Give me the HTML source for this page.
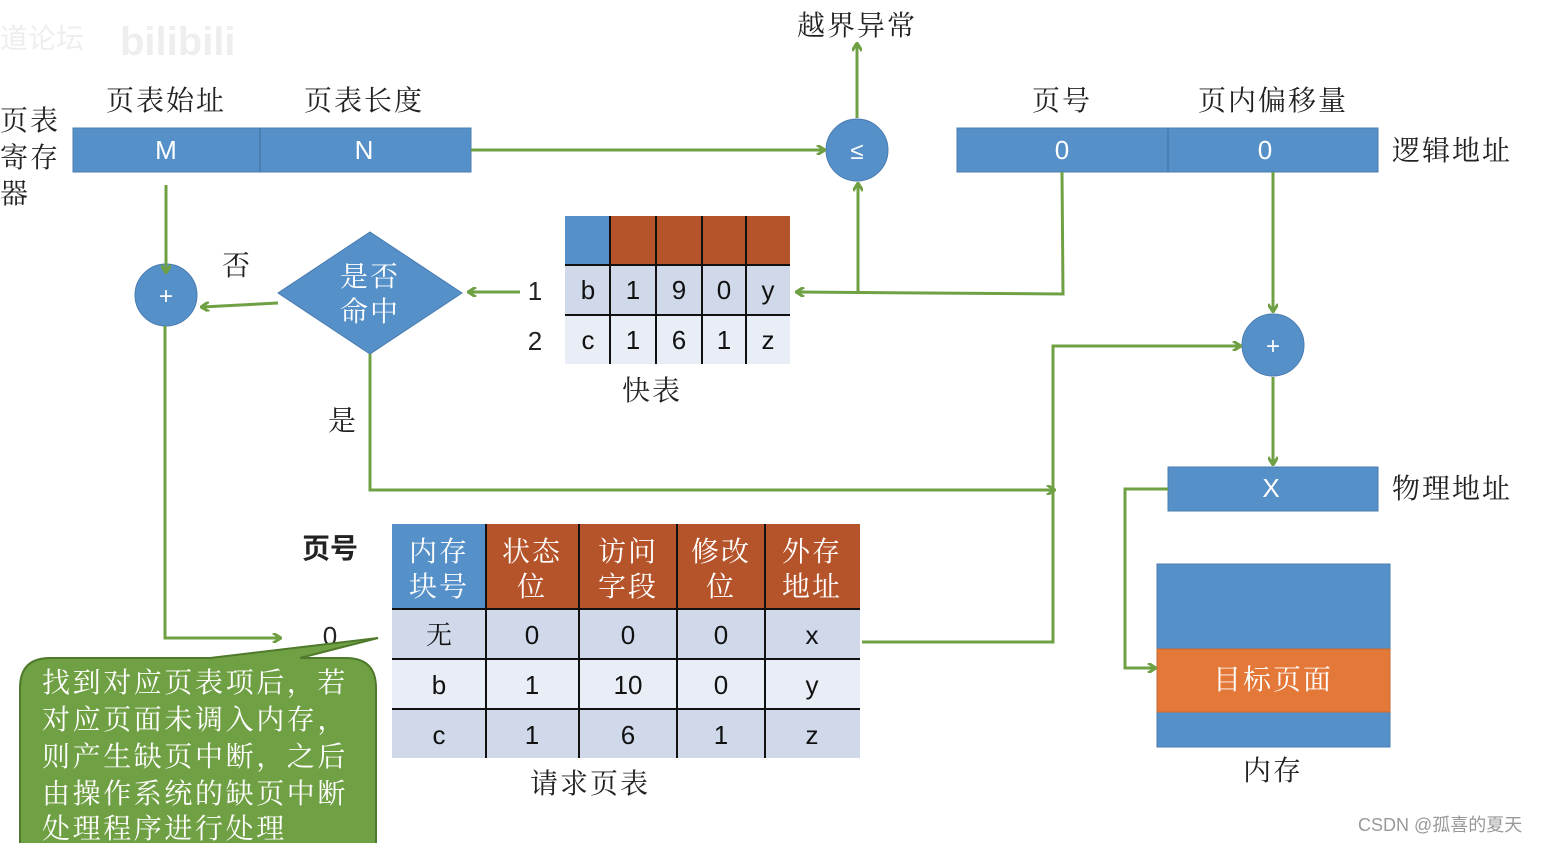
<!DOCTYPE html>
<html><head><meta charset="utf-8"><style>
html,body{margin:0;padding:0;background:#fff;width:1545px;height:843px;overflow:hidden}
svg text{font-family:"Liberation Sans","Noto Sans CJK SC",sans-serif}
svg .s{font-family:"Liberation Serif","Noto Serif CJK SC",serif}
</style></head><body>
<svg width="1545" height="843" viewBox="0 0 1545 843" xmlns="http://www.w3.org/2000/svg">
<defs>
<marker id="a" markerWidth="10" markerHeight="10" refX="8" refY="5" orient="auto" markerUnits="userSpaceOnUse"><path d="M1,0 L9,5 L1,10" fill="none" stroke="#70a044" stroke-width="3"/></marker>
</defs>
<g font-size="28" fill="#222" class="s">
<text class="s" x="0" y="130" letter-spacing="2">页表</text><text class="s" x="0" y="167" letter-spacing="2">寄存</text><text class="s" x="0" y="203">器</text>
<text class="s" x="166" y="110" text-anchor="middle" letter-spacing="2">页表始址</text>
<text class="s" x="364" y="110" text-anchor="middle" letter-spacing="2">页表长度</text>
<text class="s" x="857" y="35" text-anchor="middle" letter-spacing="2">越界异常</text>
<text class="s" x="1062" y="110" text-anchor="middle" letter-spacing="2">页号</text>
<text class="s" x="1273" y="110" text-anchor="middle" letter-spacing="2">页内偏移量</text>
<text class="s" x="1392" y="160" letter-spacing="2">逻辑地址</text>
<text class="s" x="1392" y="498" letter-spacing="2">物理地址</text>
<text class="s" x="236" y="275" text-anchor="middle">否</text>
<text class="s" x="342" y="430" text-anchor="middle">是</text>
<text class="s" x="652" y="400" text-anchor="middle" letter-spacing="2">快表</text>
<text class="s" x="590" y="793" text-anchor="middle" letter-spacing="2">请求页表</text>
<text class="s" x="1273" y="780" text-anchor="middle" letter-spacing="2">内存</text>
<text x="535" y="300" text-anchor="middle" font-size="26">1</text>
<text x="535" y="350" text-anchor="middle" font-size="26">2</text>
<text x="330" y="558" text-anchor="middle" font-weight="bold">页号</text>
<text x="330" y="645" text-anchor="middle" font-size="26">0</text>
</g>
<rect x="73" y="128" width="398" height="44" fill="#5690c8" stroke="#4a7cb0"/>
<line x1="260" y1="128" x2="260" y2="172" stroke="#3f6e9e"/>
<text x="166" y="159" text-anchor="middle" font-size="26" fill="#fff">M</text>
<text x="364" y="159" text-anchor="middle" font-size="26" fill="#fff">N</text>
<rect x="957" y="128" width="421" height="44" fill="#5690c8" stroke="#4a7cb0"/>
<line x1="1168" y1="128" x2="1168" y2="172" stroke="#3f6e9e"/>
<text x="1062" y="159" text-anchor="middle" font-size="26" fill="#fff">0</text>
<text x="1265" y="159" text-anchor="middle" font-size="26" fill="#fff">0</text>
<rect x="1168" y="467" width="210" height="44" fill="#5690c8" stroke="#4a7cb0"/>
<text x="1271" y="497" text-anchor="middle" font-size="26" fill="#fff">X</text>
<g fill="#5690c8" stroke="#4a7cb0">
<circle cx="857" cy="150" r="31"/><circle cx="166" cy="295" r="31"/><circle cx="1273" cy="345" r="31"/>
</g>
<text x="857" y="159" text-anchor="middle" font-size="24" fill="#fff">≤</text>
<text x="166" y="304" text-anchor="middle" font-size="24" fill="#fff">+</text>
<text x="1273" y="354" text-anchor="middle" font-size="24" fill="#fff">+</text>
<polygon points="370,232 462,293 370,354 278,293" fill="#5690c8" stroke="#4a7cb0"/>
<text class="s" x="370" y="286" text-anchor="middle" font-size="28" fill="#fff" letter-spacing="2">是否</text>
<text class="s" x="370" y="321" text-anchor="middle" font-size="28" fill="#fff" letter-spacing="2">命中</text>
<rect x="565" y="216" width="45" height="49" fill="#5690c8"/>
<rect x="610" y="216" width="180" height="49" fill="#b5532a"/>
<rect x="565" y="265" width="225" height="50" fill="#cfd9ea"/>
<rect x="565" y="315" width="225" height="49" fill="#e9edf5"/>
<g stroke="#111" stroke-width="2">
<line x1="565" y1="265" x2="790" y2="265"/><line x1="565" y1="315" x2="790" y2="315"/>
<line x1="610" y1="216" x2="610" y2="364"/><line x1="656" y1="216" x2="656" y2="364"/>
<line x1="702" y1="216" x2="702" y2="364"/><line x1="746" y1="216" x2="746" y2="364"/>
</g>
<g font-size="26" fill="#111" text-anchor="middle">
<text x="588" y="299">b</text><text x="633" y="299">1</text><text x="679" y="299">9</text><text x="724" y="299">0</text><text x="768" y="299">y</text>
<text x="588" y="349">c</text><text x="633" y="349">1</text><text x="679" y="349">6</text><text x="724" y="349">1</text><text x="768" y="349">z</text>
</g>
<rect x="392" y="524" width="94" height="85" fill="#5690c8"/>
<rect x="486" y="524" width="374" height="85" fill="#b5532a"/>
<rect x="392" y="609" width="468" height="50" fill="#cfd9ea"/>
<rect x="392" y="659" width="468" height="50" fill="#e9edf5"/>
<rect x="392" y="709" width="468" height="49" fill="#cfd9ea"/>
<g stroke="#111" stroke-width="2">
<line x1="392" y1="609" x2="860" y2="609"/><line x1="392" y1="659" x2="860" y2="659"/><line x1="392" y1="709" x2="860" y2="709"/>
<line x1="486" y1="524" x2="486" y2="758"/><line x1="579" y1="524" x2="579" y2="758"/>
<line x1="677" y1="524" x2="677" y2="758"/><line x1="765" y1="524" x2="765" y2="758"/>
</g>
<g font-size="28" fill="#fff" text-anchor="middle" letter-spacing="2">
<text class="s" x="439" y="561">内存</text><text class="s" x="439" y="596">块号</text>
<text class="s" x="532" y="561">状态</text><text class="s" x="532" y="596">位</text>
<text class="s" x="628" y="561">访问</text><text class="s" x="628" y="596">字段</text>
<text class="s" x="721" y="561">修改</text><text class="s" x="721" y="596">位</text>
<text class="s" x="812" y="561">外存</text><text class="s" x="812" y="596">地址</text>
</g>
<g font-size="26" fill="#111" text-anchor="middle">
<text class="s" x="439" y="644">无</text><text x="532" y="644">0</text><text x="628" y="644">0</text><text x="721" y="644">0</text><text x="812" y="644">x</text>
<text x="439" y="694">b</text><text x="532" y="694">1</text><text x="628" y="694">10</text><text x="721" y="694">0</text><text x="812" y="694">y</text>
<text x="439" y="744">c</text><text x="532" y="744">1</text><text x="628" y="744">6</text><text x="721" y="744">1</text><text x="812" y="744">z</text>
</g>
<rect x="1157" y="564" width="233" height="183" fill="#5690c8" stroke="#4a7cb0"/>
<rect x="1157" y="649" width="233" height="63" fill="#e47838" stroke="#c96a30"/>
<text class="s" x="1273" y="689" text-anchor="middle" font-size="28" fill="#fff" letter-spacing="2">目标页面</text>
<g stroke="#70a044" stroke-width="3" fill="none" marker-end="url(#a)">
<line x1="471" y1="150" x2="824" y2="150"/>
<line x1="857" y1="118" x2="857" y2="44"/>
<polyline points="1062,172 1063,294 797,292"/>
<line x1="858" y1="292" x2="858" y2="184"/>
<line x1="520" y1="292" x2="469" y2="292"/>
<line x1="278" y1="303" x2="202" y2="307"/>
<line x1="166" y1="185" x2="166" y2="272"/>
<polyline points="165,326 165,638 280,638"/>
<polyline points="370,354 370,490 1054,490"/>
<polyline points="862,642 1053,642 1053,346 1240,346"/>
<line x1="1273" y1="172" x2="1273" y2="311"/>
<line x1="1273" y1="377" x2="1273" y2="464"/>
<polyline points="1168,489 1125,489 1125,668 1155,668"/>
</g>
<path d="M50,658 L210,658 L378,638 L300,658 L346,658 Q376,658 376,688 L376,850 L20,850 L20,688 Q20,658 50,658 Z" fill="#70a044" stroke="#4f7a2c" stroke-width="2"/>
<g font-size="28" fill="#fff" letter-spacing="2.6">
<text class="s" x="42" y="692">找到对应页表项后，若</text>
<text class="s" x="42" y="729">对应页面未调入内存，</text>
<text class="s" x="42" y="766">则产生缺页中断，之后</text>
<text class="s" x="42" y="803">由操作系统的缺页中断</text>
<text class="s" x="42" y="838">处理程序进行处理</text>
</g>
<text x="1358" y="831" font-size="18" fill="#999">CSDN @孤喜的夏天</text>
<text x="0" y="48" font-size="28" fill="#eee">道论坛</text>
<text x="120" y="55" font-size="40" font-weight="bold" fill="#eee">bilibili</text>
</svg>
</body></html>
